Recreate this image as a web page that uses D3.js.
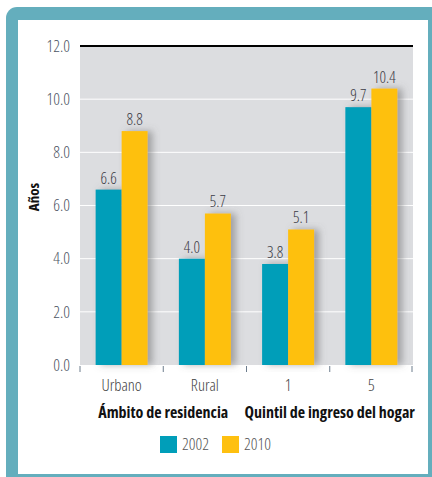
<!DOCTYPE html>
<html>
<head>
  <meta charset="utf-8">
  <script src="https://d3js.org/d3.v7.min.js"></script>
  <style>
    body { margin: 0; background: #fff; }
    text { font-family: "Open Sans", sans-serif; font-stretch: condensed; }
  </style>
</head>
<body>
<script>
  // chart data
  var categories = ["Urbano", "Rural", "1", "5"];
  var series = ["2002", "2010"];
  var values2002 = [6.6, 4.0, 3.8, 9.7];
  var values2010 = [8.8, 5.7, 5.1, 10.4];
  var groupTitles = ["Ámbito de residencia", "Quintil de ingreso del hogar"];
  var yTicks = [0, 2, 4, 6, 8, 10, 12];

  var w = 432, h = 477;
  var colors = {"2002": "#009eb9", "2010": "#fec010"};
  var margin = {left: 80, right: 19, top: 46, bottom: 112};

  var svg = d3.select("body").append("svg")
    .attr("width", w)
    .attr("height", h);

  var defs = svg.append("defs");
  var f = defs.append("filter").attr("id", "shadow")
    .attr("x", "-20%").attr("y", "-5%").attr("width", "160%").attr("height", "110%");
  f.append("feDropShadow")
    .attr("dx", 5).attr("dy", 0).attr("stdDeviation", 3.5)
    .attr("flood-color", "#666").attr("flood-opacity", 0.5);
  var f2 = defs.append("filter").attr("id", "axshadow")
    .attr("x", "-5%").attr("y", "-200%").attr("width", "110%").attr("height", "600%");
  f2.append("feDropShadow")
    .attr("dx", 0).attr("dy", 4).attr("stdDeviation", 3)
    .attr("flood-color", "#888").attr("flood-opacity", 0.4);

  // frame
  svg.append("rect")
    .attr("x", 6).attr("y", 7).attr("width", w + 10).attr("height", h + 10)
    .attr("rx", 11).attr("fill", "#64aebd");
  svg.append("rect")
    .attr("x", 18).attr("y", 20).attr("width", 410).attr("height", 454)
    .attr("fill", "#fff");

  var x0 = d3.scaleBand()
    .domain(categories)
    .range([margin.left, w - margin.right])
    .padding(0);

  var x1 = d3.scaleBand()
    .domain(series)
    .range([0, x0.bandwidth()])
    .paddingInner(0)
    .paddingOuter(0.6);

  var y = d3.scaleLinear()
    .domain([0, 12])
    .range([h - margin.bottom, margin.top]);

  // plot background
  svg.append("rect")
    .attr("x", margin.left).attr("y", y(12))
    .attr("width", w - margin.right - margin.left)
    .attr("height", y(0) - y(12))
    .attr("fill", "#dcdde0");

  // grid
  svg.selectAll(".grid")
    .data(yTicks.filter(function(d){ return d > 0 && d < 12; }))
    .enter().append("line")
    .attr("x1", margin.left).attr("x2", w - margin.right)
    .attr("y1", function(d){ return y(d); })
    .attr("y2", function(d){ return y(d); })
    .attr("stroke", "#fff").attr("stroke-width", 1);

  svg.append("line")
    .attr("x1", margin.left).attr("x2", w - margin.right)
    .attr("y1", y(12)).attr("y2", y(12))
    .attr("stroke", "#000").attr("stroke-width", 2);

  // y axis
  var yAxis = svg.append("g")
    .attr("transform", "translate(" + (margin.left - 10) + ",0)")
    .call(d3.axisLeft(y).tickValues(yTicks).tickFormat(d3.format(".1f")).tickSize(0).tickPadding(0));
  yAxis.select(".domain").remove();
  yAxis.selectAll("text")
    .attr("font-size", 16.5)
    .attr("font-weight", 300)
    .attr("fill", "#4d5564")
    .style("font-family", "'Open Sans', sans-serif");

  svg.append("text")
    .attr("transform", "translate(39," + 197 + ") rotate(-90)")
    .attr("text-anchor", "middle")
    .attr("font-size", 15)
    .attr("font-weight", "bold")
    .attr("fill", "#111")
    .style("font-stretch", "semi-condensed")
    .text("Años");

  // bars
  var rows = categories.map(function(c, i){
    return {cat: c, vals: [
      {s: "2002", v: values2002[i]},
      {s: "2010", v: values2010[i]}
    ]};
  });

  var groups = svg.selectAll(".grp")
    .data(rows)
    .enter().append("g")
    .attr("transform", function(d){ return "translate(" + x0(d.cat) + ",0)"; });

  groups.append("g")
    .attr("filter", "url(#shadow)")
    .selectAll("rect")
    .data(function(d){ return d.vals; })
    .enter().append("rect")
    .attr("x", function(d){ return x1(d.s); })
    .attr("width", x1.bandwidth())
    .attr("y", function(d){ return y(d.v); })
    .attr("height", function(d){ return y(0) - y(d.v); })
    .attr("fill", function(d){ return colors[d.s]; });

  groups.selectAll(".val")
    .data(function(d){ return d.vals; })
    .enter().append("text")
    .attr("x", function(d){ return x1(d.s) + x1.bandwidth() / 2; })
    .attr("y", function(d){ return y(d.v) - 6; })
    .attr("text-anchor", "middle")
    .attr("font-size", 16)
    .attr("font-weight", 300)
    .attr("fill", "#3b3b45")
    .text(function(d){ return d.v.toFixed(1); });

  // x axis
  svg.append("line")
    .attr("x1", margin.left).attr("x2", w - margin.right)
    .attr("y1", y(0)).attr("y2", y(0))
    .attr("stroke", "#000").attr("stroke-width", 3)
    .attr("filter", "url(#axshadow)");

  var tickXs = categories.map(function(c){ return x0(c); }).concat([w - margin.right - 1]);
  svg.selectAll(".xt")
    .data(tickXs)
    .enter().append("line")
    .attr("x1", function(d){ return d; }).attr("x2", function(d){ return d; })
    .attr("y1", y(0) + 1).attr("y2", y(0) + 7)
    .attr("stroke", "#6c7c8c").attr("stroke-width", 1);

  svg.selectAll(".xl")
    .data(categories)
    .enter().append("text")
    .attr("x", function(d){ return x0(d) + x0.bandwidth() / 2; })
    .attr("y", y(0) + 26)
    .attr("text-anchor", "middle")
    .attr("font-size", 16.5)
    .attr("font-weight", 300)
    .attr("fill", "#444")
    .text(function(d){ return d; });

  svg.selectAll(".gt")
    .data(groupTitles)
    .enter().append("text")
    .attr("x", function(d, i){ return x0(categories[i * 2]) + x0.bandwidth(); })
    .attr("y", y(0) + 53)
    .attr("text-anchor", "middle")
    .attr("font-size", 16)
    .attr("font-weight", "bold")
    .attr("fill", "#111")
    .text(function(d){ return d; });

  // legend
  var legend = svg.selectAll(".lg")
    .data(series)
    .enter().append("g")
    .attr("transform", function(d, i){ return "translate(" + (160 + i * 62) + ",436)"; });
  legend.append("rect")
    .attr("width", 17).attr("height", 17)
    .attr("fill", function(d){ return colors[d]; });
  legend.append("text")
    .attr("x", 22).attr("y", 14)
    .attr("font-size", 16.5)
    .attr("font-weight", 300)
    .attr("fill", "#555")
    .text(function(d){ return d; });
</script>
</body>
</html>
